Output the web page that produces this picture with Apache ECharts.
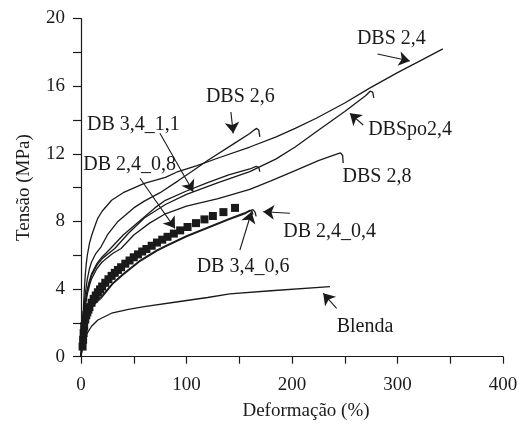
<!DOCTYPE html>
<html>
<head>
<meta charset="utf-8">
<script src="https://cdn.jsdelivr.net/npm/echarts@6/dist/echarts.min.js"></script>
<style>
  html, body { margin: 0; padding: 0; background: #fff; }
  #chart { width: 521px; height: 432px; }
</style>
</head>
<body>
<div id="chart"></div>
<script>
// eixos
var xTicks = [0, 100, 200, 300, 400];
var yTicks = [0, 4, 8, 12, 16, 20];

// curvas tensao x deformacao, pares [deformacao %, tensao MPa]
var dbs24 = [[0,0],[1,1.0],[2,2.5],[3,3.8],[4,4.8],[5,5.5],[6,6.0],[8,6.7],[10,7.15],[13,7.7],[16,8.2],[20,8.6],[29,9.25],[40,9.7],[60,10.25],[80,10.6],[92,10.95],[110,11.3],[130,11.75],[160,12.4],[185,13.0],[203,13.5],[223,14.1],[250,15.0],[274,15.9],[300,16.8],[320,17.45],[343,18.2]];
var dbs26 = [[0,0],[1,0.9],[2,2.0],[3,3.0],[4,3.7],[6,4.6],[8,5.2],[10,5.6],[14,6.1],[19,6.5],[25,7.2],[35,8.0],[50,8.8],[60,9.2],[75,9.7],[92,10.4],[105,10.95],[120,11.6],[145,12.6],[160,13.2],[164,13.4],[166.5,13.5],[168.5,13.4],[169.5,13.0]];
var db34_11 = [[0,0],[1,0.8],[2,1.8],[3,2.7],[4,3.3],[6,4.0],[8,4.5],[10,4.9],[15,5.5],[20,5.9],[28,6.4],[40,7.2],[55,8.0],[70,8.8],[80,9.25],[100,9.8],[120,10.3],[140,10.75],[160,11.1],[166,11.25],[168.5,11.2],[169.5,10.95]];
var dbspo24 = [[0,0],[1,0.8],[2,1.7],[3,2.5],[4,3.1],[6,3.9],[8,4.4],[10,4.8],[15,5.4],[20,5.8],[32,6.4],[45,7.3],[60,8.2],[80,9.0],[100,9.6],[130,10.3],[160,10.94],[185,11.7],[203,12.4],[223,13.3],[250,14.5],[270,15.45],[274,15.7],[276.5,15.65],[277.5,15.3]];
var dbs28 = [[0,0],[1,0.7],[2,1.6],[3,2.4],[4,3.0],[6,3.7],[8,4.2],[10,4.6],[15,5.2],[20,5.6],[30,6.1],[38,6.4],[50,7.2],[65,7.9],[80,8.45],[100,8.9],[130,9.35],[160,9.9],[180,10.4],[203,11.0],[225,11.6],[243,12.0],[246,12.05],[248,11.9],[248.5,11.45]];
var db24_04 = [[0,0],[1,0.5],[2,1.1],[3,1.6],[5,2.2],[8,2.75],[12,3.05],[19,3.45],[30,4.3],[40,4.85],[55,5.6],[72,6.25],[80,6.5],[100,7.1],[120,7.6],[140,8.1],[155,8.45],[161,8.65],[163,8.7],[165,8.55],[166,8.3]];
var db34_06 = [[0,0],[1,0.6],[2,1.2],[3,1.7],[5,2.3],[8,2.8],[12,3.15],[19,3.55],[30,4.35],[40,4.9],[55,5.65],[72,6.3],[80,6.55],[100,7.15],[120,7.65],[140,8.15],[155,8.5],[160,8.65],[162,8.6],[163,8.4]];
var blenda = [[0,0],[2,0.8],[5,1.3],[10,1.8],[16,2.17],[29,2.57],[45,2.8],[60,2.96],[92,3.25],[120,3.5],[141,3.72],[180,3.9],[236,4.14]];
// DB 2,4_0,8 (quadrados)
var db24_08 = [[1.5,0.6],[2,1.0],[2.5,1.4],[3,1.8],[4,2.2],[5,2.45],[6,2.62],[7,2.78],[8,2.93],[10,3.19],[12,3.42],[14,3.62],[16,3.81],[18,3.98],[20,4.15],[23,4.37],[26,4.58],[29,4.78],[32,4.96],[35,5.13],[38,5.29],[42,5.5],[46,5.69],[50,5.88],[54,6.05],[58,6.22],[62,6.37],[67,6.56],[72,6.75],[77,6.92],[82,7.09],[88,7.28],[94,7.47],[101,7.67],[109,7.9],[117,8.12],[125,8.32],[135,8.55],[146,8.8]];

// rotulos [texto, deformacao, tensao] (canto esquerdo, meio da altura)
var labels = [
  ['DBS 2,4', 261.5, 18.83],
  ['DBS 2,6', 118.4, 15.36],
  ['DB 3,4_1,1', 5.7, 13.71],
  ['DB 2,4_0,8', 2.2, 11.34],
  ['DBSpo2,4', 272.2, 13.41],
  ['DBS 2,8', 247.9, 10.64],
  ['DB 2,4_0,4', 191.7, 7.39],
  ['DB 3,4_0,6', 109.6, 5.32],
  ['Blenda', 242.3, 1.77]
];
// setas [inicio, ponta]
var arrows = [
  [[281.1, 17.9], [311.7, 17.49]],
  [[142.1, 14.47], [144.3, 13.21]],
  [[74.8, 13.21], [106.4, 9.76]],
  [[55.9, 10.55], [89.1, 7.59]],
  [[267.5, 13.7], [254.9, 14.39]],
  [[198, 8.48], [172.7, 8.57]],
  [[150.6, 6.31], [161.7, 8.57]],
  [[242.3, 2.86], [229.6, 3.75]]
];

var font = 'Liberation Serif';
var ink = '#1a1a1a';

function curve(name, data) {
  return {
    name: name,
    type: 'line',
    data: data,
    showSymbol: false,
    smooth: false,
    lineStyle: { color: ink, width: 1.3 },
    silent: true
  };
}

var chart = echarts.init(document.getElementById('chart'));

var series = [
  curve('DBS 2,4', dbs24),
  curve('DBS 2,6', dbs26),
  curve('DB 3,4_1,1', db34_11),
  curve('DBSpo2,4', dbspo24),
  curve('DBS 2,8', dbs28),
  curve('DB 2,4_0,4', db24_04),
  curve('DB 3,4_0,6', db34_06),
  curve('Blenda', blenda),
  {
    name: 'DB 2,4_0,8',
    type: 'scatter',
    data: db24_08,
    symbol: 'rect',
    symbolSize: 8,
    itemStyle: { color: ink, opacity: 1 },
    silent: true
  }
];

// setas e rotulos
series[7].markLine = {
  silent: true,
  animation: false,
  symbol: ['none', 'arrow'],
  symbolSize: 11,
  label: { show: false },
  lineStyle: { color: ink, width: 1.1, type: 'solid' },
  data: arrows.map(function (a) {
    return [{ coord: a[0] }, { coord: a[1] }];
  })
};
series[7].markPoint = {
  silent: true,
  animation: false,
  symbol: 'circle',
  symbolSize: 0,
  data: labels.map(function (l) {
    return {
      coord: [l[1], l[2]],
      label: {
        show: true,
        formatter: l[0],
        position: 'right',
        distance: 0,
        color: ink,
        fontFamily: font,
        fontSize: 20
      }
    };
  })
};

chart.setOption({
  animation: false,
  grid: { left: 81, right: 18, top: 18.5, bottom: 75.3 },
  xAxis: {
    type: 'value',
    min: xTicks[0],
    max: xTicks[xTicks.length - 1],
    interval: 100,
    name: 'Deformação (%)',
    nameLocation: 'middle',
    nameGap: 45,
    nameTextStyle: { fontFamily: font, fontSize: 19, color: ink, padding: [0, 0, 0, 28] },
    axisLine: { lineStyle: { color: ink, width: 1.2 } },
    axisTick: { inside: false, length: 7, lineStyle: { color: ink, width: 1.2 } },
    minorTick: { show: true, splitNumber: 2, length: 7, lineStyle: { color: ink, width: 1.2 } },
    splitLine: { show: false },
    axisLabel: { fontFamily: font, fontSize: 19, color: ink, margin: 19 }
  },
  yAxis: {
    type: 'value',
    min: yTicks[0],
    max: yTicks[yTicks.length - 1],
    interval: 4,
    name: 'Tensão (MPa)',
    nameLocation: 'middle',
    nameGap: 47,
    nameTextStyle: { fontFamily: font, fontSize: 19, color: ink },
    axisLine: { show: true, lineStyle: { color: ink, width: 1.2 } },
    axisTick: { show: true, inside: false, length: 8, lineStyle: { color: ink, width: 1.2 } },
    minorTick: { show: true, splitNumber: 2, length: 8, lineStyle: { color: ink, width: 1.2 } },
    splitLine: { show: false },
    axisLabel: { fontFamily: font, fontSize: 19, color: ink, margin: 16 }
  },
  series: series
});
</script>
</body>
</html>
